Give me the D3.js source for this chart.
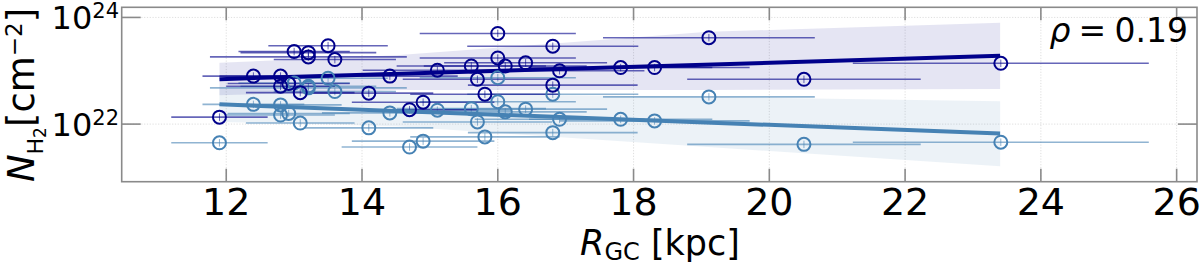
<!DOCTYPE html>
<html><head><meta charset="utf-8">
<script src="https://cdn.jsdelivr.net/npm/d3@7"></script>
<style>
html,body{margin:0;padding:0;background:#fff;}
svg{display:block;font-family:"DejaVu Sans",sans-serif;}
</style></head>
<body>
<svg id="chart" width="1200" height="265"></svg>
<script>
// ---------------- data ----------------
const R =        [11.9, 12.4, 12.8, 12.8, 12.92, 13.0, 13.09, 13.21, 13.21, 13.5, 13.6, 14.1, 14.41, 14.7, 14.9, 15.11, 15.61, 15.7, 15.81, 16.0, 16.0, 16.11, 16.41, 16.81, 16.81, 16.91, 17.81, 18.31, 19.11, 20.51, 23.41];
const Rerr =     [0.71, 0.75, 0.90, 0.80, 0.90, 0.82, 0.80, 1.00, 1.45, 0.88, 0.90, 0.95, 1.00, 1.00, 1.05, 1.10, 1.10, 1.10, 1.10, 1.15, 1.15, 1.20, 1.20, 1.26, 1.25, 1.25, 1.35, 1.40, 1.56, 1.72, 2.18];
const logNdark = [22.13, 22.90, 22.90, 22.71, 22.76, 23.36, 22.59, 23.34, 23.26, 23.47, 23.21, 22.58, 22.90, 22.27, 22.41, 23.01, 23.09, 22.84, 22.56, 23.70, 23.24, 23.09, 23.15, 23.46, 22.73, 23.00, 23.06, 23.06, 23.62, 22.84, 23.14];
const logNlight =[21.65, 22.37, 22.36, 22.17, 22.20, 22.77, 22.02, 22.71, 22.68, 22.86, 22.61, 21.93, 22.21, 21.57, 21.68, 22.26, 22.29, 22.04, 21.76, 22.87, 22.42, 22.23, 22.28, 22.56, 21.84, 22.09, 22.09, 22.06, 22.51, 21.62, 21.66];
const logNerr = 0.07;

// linear fits (log N vs R) and confidence bands
const fitR = [11.9, 23.4];
const fitDark = [22.843, 23.28];
const fitLight = [22.37, 21.825];
const bandR = [11.9, 14.5, 19.1, 23.4];
const bandDarkLo = [22.54, 22.64, 22.64, 22.66];
const bandDarkHi = [23.15, 23.29, 23.73, 23.90];
const bandLightLo = [22.04, 21.96, 21.57, 21.21];
const bandLightHi = [22.67, 22.58, 22.51, 22.43];

const xTicks = [12, 14, 16, 18, 20, 22, 24, 26];
const yTickExp = [22, 24];
const rhoText = "0.19";

// ---------------- drawing ----------------
const svg = d3.select("#chart");
const L = 121.7, Rt = 1197, T = 7.3, B = 181.7;
const x = d3.scaleLinear().domain([10.46, 26.3]).range([L, Rt]);
const y = d3.scaleLog().domain([Math.pow(10, 20.92), Math.pow(10, 24.19)]).range([B, T]);
const P = v => Math.pow(10, v);

const NAVY = "#00008b", STEEL = "#4682b4";

// grid
const grid = svg.append("g");
grid.selectAll("line.gx").data(xTicks).join("line")
  .attr("x1", d => x(d)).attr("x2", d => x(d)).attr("y1", T).attr("y2", B)
  .attr("stroke", "#d6d6d6").attr("stroke-width", 0.8).attr("stroke-dasharray", "1.2,1.6");
grid.selectAll("line.gy").data(yTickExp).join("line")
  .attr("x1", L).attr("x2", Rt).attr("y1", d => y(P(d))).attr("y2", d => y(P(d)))
  .attr("stroke", "#d6d6d6").attr("stroke-width", 0.8).attr("stroke-dasharray", "1.2,1.6");

// bands
function band(lo, hi, color) {
  const area = d3.area().x((d, i) => x(bandR[i])).y0((d, i) => y(P(lo[i]))).y1((d, i) => y(P(hi[i])));
  svg.append("path").datum(bandR).attr("d", area).attr("fill", color).attr("fill-opacity", 0.1);
}
band(bandDarkLo, bandDarkHi, NAVY);
band(bandLightLo, bandLightHi, STEEL);

// error bars
function errbars(vals, color) {
  const g = svg.append("g").attr("stroke", color).attr("stroke-opacity", 0.6);
  g.selectAll("line.h").data(R).join("line")
    .attr("x1", (d, i) => x(d - Rerr[i])).attr("x2", (d, i) => x(d + Rerr[i]))
    .attr("y1", (d, i) => y(P(vals[i]))).attr("y2", (d, i) => y(P(vals[i])))
    .attr("stroke-width", 1.6);
  g.selectAll("line.v").data(R).join("line")
    .attr("x1", d => x(d)).attr("x2", d => x(d))
    .attr("y1", (d, i) => y(P(vals[i] - logNerr))).attr("y2", (d, i) => y(P(vals[i] + logNerr)))
    .attr("stroke-width", 1);
}
errbars(logNlight, STEEL);
errbars(logNdark, NAVY);

// fit lines
function fit(vals, color) {
  svg.append("path").datum(fitR)
    .attr("d", d3.line().x(d => x(d)).y((d, i) => y(P(vals[i]))))
    .attr("stroke", color).attr("stroke-width", 4).attr("fill", "none");
}
fit(fitLight, STEEL);
fit(fitDark, NAVY);

// markers
function markers(vals, color) {
  svg.append("g").selectAll("circle").data(R).join("circle")
    .attr("cx", d => x(d)).attr("cy", (d, i) => y(P(vals[i]))).attr("r", 6.5)
    .attr("fill", "none").attr("stroke", color).attr("stroke-width", 2);
}
markers(logNlight, STEEL);
markers(logNdark, NAVY);

// axes frame
svg.append("rect").attr("x", L).attr("y", T).attr("width", Rt - L).attr("height", B - T)
  .attr("fill", "none").attr("stroke", "#8a8a8a").attr("stroke-width", 1.6);

// ticks (inward)
const tk = svg.append("g").attr("stroke", "#8a8a8a").attr("stroke-width", 1.6);
xTicks.forEach(t => {
  tk.append("line").attr("x1", x(t)).attr("x2", x(t)).attr("y1", B).attr("y2", B - 13);
  tk.append("line").attr("x1", x(t)).attr("x2", x(t)).attr("y1", T).attr("y2", T + 13);
});
yTickExp.forEach(e => {
  tk.append("line").attr("x1", L).attr("x2", L + 19).attr("y1", y(P(e))).attr("y2", y(P(e)));
  tk.append("line").attr("x1", Rt).attr("x2", Rt - 19).attr("y1", y(P(e))).attr("y2", y(P(e)));
});

// tick labels
svg.append("g").selectAll("text").data(xTicks).join("text")
  .attr("x", d => x(d)).attr("y", 215).attr("text-anchor", "middle")
  .attr("font-size", 38).attr("fill", "#000").text(d => d);

yTickExp.forEach(e => {
  const t = svg.append("text").attr("x", 119).attr("y", y(P(e)) + 12)
    .attr("text-anchor", "end").attr("font-size", 32).attr("fill", "#000");
  t.append("tspan").text("10");
  t.append("tspan").attr("font-size", 21).attr("dy", -11).text(e);
});

// x label
const xl = svg.append("text").attr("x", 660).attr("y", 255).attr("text-anchor", "middle")
  .attr("font-size", 35).attr("fill", "#000");
xl.append("tspan").attr("font-style", "italic").text("R");
xl.append("tspan").attr("font-size", 24).attr("dy", 5).text("GC");
xl.append("tspan").attr("dy", -5).text(" [kpc]");

// y label
const yl = svg.append("text").attr("transform", "translate(34,95) rotate(-90)")
  .attr("text-anchor", "middle").attr("font-size", 37).attr("fill", "#000");
yl.append("tspan").attr("font-style", "italic").text("N");
yl.append("tspan").attr("font-size", 22).attr("dy", 9).text("H");
yl.append("tspan").attr("font-size", 17).attr("dy", 3).text("2");
yl.append("tspan").attr("dy", -12).text("[cm");
yl.append("tspan").attr("font-size", 23).attr("dy", -12).text("\u22122");
yl.append("tspan").attr("dy", 12).text("]");

// rho annotation
const rt = svg.append("text").attr("x", 1188).attr("y", 41.7).attr("text-anchor", "end")
  .attr("font-size", 33).attr("fill", "#000");
rt.append("tspan").attr("font-style", "italic").text("\u03c1");
rt.append("tspan").text("\u2005=\u2005" + rhoText);
</script>
</body></html>
